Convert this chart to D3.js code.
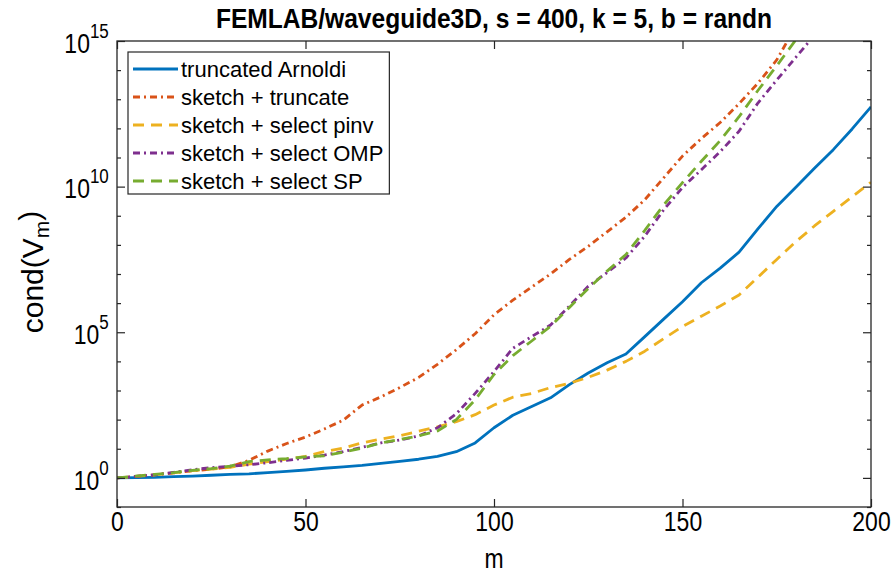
<!DOCTYPE html>
<html><head><meta charset="utf-8">
<script src="https://cdn.jsdelivr.net/npm/d3@7"></script>
<style>
body{margin:0;background:#fff}
svg{display:block}
text{font-family:"Liberation Sans",Arial,Helvetica,sans-serif;fill:#000}
</style>
</head><body>
<svg id="c" width="894" height="576"></svg>
<script>
// ---- data (cond(V_m) given as log10 values) ----
const mValues = [0,5,10,15,20,25,30,35,40,45,50,55,60,65,70,75,80,85,90,95,100,105,110,115,120,125,130,135,140,145,150,155,160,165,170,175,180,185,190,195,200];
const truncatedArnoldiLog10 = [0,0.01,0.02,0.04,0.06,0.09,0.12,0.14,0.18,0.22,0.27,0.33,0.38,0.43,0.50,0.57,0.64,0.74,0.9,1.2,1.72,2.15,2.45,2.75,3.2,3.6,3.95,4.25,4.85,5.45,6.05,6.7,7.2,7.75,8.55,9.32,9.97,10.63,11.27,11.98,12.74];
const sketchTruncateLog10 = [0,0.05,0.1,0.17,0.24,0.3,0.38,0.6,0.92,1.18,1.4,1.68,1.98,2.5,2.78,3.1,3.45,3.9,4.4,4.95,5.6,6.1,6.55,7.0,7.5,7.95,8.45,8.95,9.55,10.3,11.05,11.65,12.2,12.85,13.55,14.35,15.5,16.5,17.4,18.3,19.2];
const selectPinvLog10 = [0,0.05,0.1,0.17,0.25,0.3,0.36,0.47,0.56,0.64,0.74,0.9,1.02,1.2,1.33,1.45,1.6,1.75,1.93,2.17,2.5,2.77,2.9,3.1,3.25,3.45,3.7,4.0,4.35,4.78,5.2,5.55,5.9,6.28,6.89,7.5,8.1,8.65,9.15,9.65,10.15];
const selectOMPLog10 = [0,0.05,0.11,0.19,0.28,0.35,0.4,0.45,0.52,0.6,0.68,0.78,0.9,1.05,1.2,1.3,1.44,1.72,2.2,2.9,3.65,4.45,4.85,5.25,5.9,6.58,7.05,7.55,8.3,9.2,9.97,10.58,11.2,11.9,12.87,13.66,14.43,15.2,16.0,16.8,17.6];
const selectSPLog10 = [0,0.06,0.12,0.18,0.26,0.32,0.4,0.56,0.62,0.66,0.72,0.76,0.88,1.02,1.2,1.32,1.44,1.61,2.0,2.68,3.55,4.2,4.7,5.2,5.85,6.5,7.1,7.67,8.5,9.37,10.14,10.87,11.58,12.4,13.3,14.15,15.03,15.9,16.8,17.7,18.6];
const seriesNames = ["truncated Arnoldi","sketch + truncate","sketch + select pinv","sketch + select OMP","sketch + select SP"];
const xTicks = [0,50,100,150,200];
const yMajorExponents = [0,5,10,15];
const yMinorExponents = [-1,1,2,3,4,6,7,8,9,11,12,13,14];
const titleText = "FEMLAB/waveguide3D, s = 400, k = 5, b = randn";

// ---- styles ----
const colors = ["#0072BD","#D95319","#EDB120","#7E2F8E","#77AC30"];
const dashes = [null,"7,4,2,4","11,7","7,4,2,4","11,7"];
const seriesLog = [truncatedArnoldiLog10,sketchTruncateLog10,selectPinvLog10,selectOMPLog10,selectSPLog10];

const svg = d3.select("#c");
const L=117, R=871, T=41, B=507;
const SX = 0.82;
const x = d3.scaleLinear().domain([0,200]).range([L,R]);
const y = d3.scaleLog().domain([1e-1,1e15]).range([B,T]);

svg.append("defs").append("clipPath").attr("id","clip")
  .append("rect").attr("x",L).attr("y",T).attr("width",R-L).attr("height",B-T);

// lines
const line = d3.line().x(d=>x(d[0])).y(d=>y(d[1]));
const gLines = svg.append("g").attr("clip-path","url(#clip)");
seriesLog.forEach((s,i)=>{
  const pts = mValues.map((m,j)=>[m, Math.pow(10,s[j])]);
  gLines.append("path").datum(pts).attr("d",line)
    .attr("fill","none").attr("stroke",colors[i]).attr("stroke-width",2.8)
    .attr("stroke-dasharray",dashes[i]).attr("stroke-linejoin","round");
});

const axisColor="#262626";
function styleAxis(g){ g.select(".domain").remove(); g.selectAll("line").attr("stroke",axisColor).attr("stroke-width",1.2); }
const fs=28;
svg.append("g").attr("transform",`translate(0,${B})`)
  .call(d3.axisBottom(x).tickValues(xTicks).tickSizeInner(-8).tickSizeOuter(0).tickPadding(4))
  .call(styleAxis)
  .call(g=>g.selectAll("text").attr("font-size",fs).attr("fill","#000").attr("transform",`scale(${SX},1)`));
svg.append("g").attr("transform",`translate(0,${T})`)
  .call(d3.axisTop(x).tickValues(xTicks).tickSizeInner(-8).tickSizeOuter(0).tickFormat(""))
  .call(styleAxis);

const majorVals = yMajorExponents.map(e=>Math.pow(10,e));
const minorVals = yMinorExponents.map(e=>Math.pow(10,e));
svg.append("g").attr("transform",`translate(${L},0)`)
  .call(d3.axisLeft(y).tickValues(minorVals).tickSizeInner(-4).tickSizeOuter(0).tickFormat(""))
  .call(styleAxis);
svg.append("g").attr("transform",`translate(${R},0)`)
  .call(d3.axisRight(y).tickValues(minorVals).tickSizeInner(-4).tickSizeOuter(0).tickFormat(""))
  .call(styleAxis);
svg.append("g").attr("transform",`translate(${R},0)`)
  .call(d3.axisRight(y).tickValues(majorVals).tickSizeInner(-8).tickSizeOuter(0).tickFormat(""))
  .call(styleAxis);
const yAx = svg.append("g").attr("transform",`translate(${L},0)`)
  .call(d3.axisLeft(y).tickValues(majorVals).tickSizeInner(-8).tickSizeOuter(0).tickPadding(10).tickFormat(""))
  .call(styleAxis);
yAx.selectAll(".tick").each(function(d,i){
  const t = d3.select(this).select("text");
  t.attr("font-size",fs).attr("fill","#000").attr("dy","0.40em").attr("text-anchor","end")
   .attr("transform",`scale(${SX},1)`);
  t.append("tspan").text("10");
  t.append("tspan").attr("font-size",fs*0.74).attr("dy","-0.72em").text(String(yMajorExponents[i]));
});

// box
svg.append("rect").attr("x",L).attr("y",T).attr("width",R-L).attr("height",B-T)
  .attr("fill","none").attr("stroke",axisColor).attr("stroke-width",1.3);

// title & labels
svg.append("text").attr("transform",`translate(${(L+R)/2},28) scale(0.91,1)`).attr("text-anchor","middle")
  .attr("font-size",27).attr("font-weight","bold").text(titleText);
svg.append("text").attr("transform",`translate(${(L+R)/2},568) scale(${SX},1)`).attr("text-anchor","middle")
  .attr("font-size",28).text("m");
const yl = svg.append("text").attr("transform","translate(43,272) rotate(-90)")
  .attr("text-anchor","middle").attr("font-size",30);
yl.append("tspan").text("cond(V");
yl.append("tspan").attr("font-size",21).attr("dy","0.3em").text("m");
yl.append("tspan").attr("dy","-0.3em").text(")");

// legend
const lg = svg.append("g");
const lgX=128, lgY=52, rowH=28, lfs=22;
const box = lg.append("rect").attr("x",lgX).attr("y",lgY).attr("height",142)
  .attr("fill","#fff").attr("stroke",axisColor).attr("stroke-width",1.2);
let maxW=0;
seriesNames.forEach((n,i)=>{
  const cy = lgY+17+i*rowH;
  lg.append("line").attr("x1",lgX+5).attr("x2",lgX+50).attr("y1",cy).attr("y2",cy)
    .attr("stroke",colors[i]).attr("stroke-width",2.8).attr("stroke-dasharray",dashes[i]);
  const t = lg.append("text").attr("x",lgX+53).attr("y",cy).attr("dy","0.36em")
    .attr("font-size",lfs).text(n);
  maxW = Math.max(maxW, t.node().getComputedTextLength());
});
box.attr("width",53+maxW+6);
</script>
</body></html>
